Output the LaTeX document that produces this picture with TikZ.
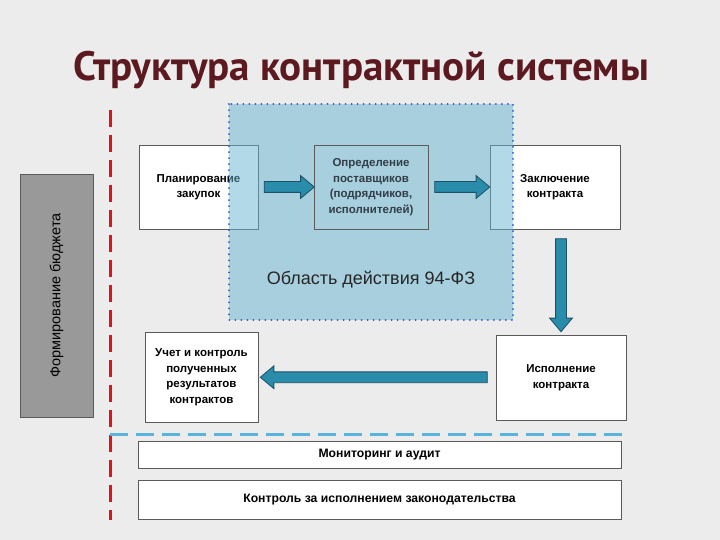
\documentclass[tikz,border=0pt]{standalone}
\usepackage{fontspec}
\setmainfont{Liberation Sans}
\newfontfamily\titlefont{PT Sans}
\usetikzlibrary{shapes.arrows,calc}
\definecolor{bg}{RGB}{236,236,236}
\definecolor{titlec}{RGB}{92,26,32}
\definecolor{regfill}{RGB}{100,180,210}
\definecolor{dotblue}{RGB}{50,80,200}
\definecolor{arrfill}{RGB}{40,140,170}
\definecolor{arrline}{RGB}{30,80,100}
\definecolor{dashred}{RGB}{220,20,30}
\definecolor{dashblue}{RGB}{90,180,220}
\definecolor{budget}{RGB}{153,153,153}
\definecolor{boxline}{RGB}{90,90,90}
\definecolor{optext}{RGB}{50,62,72}
\begin{document}
\begin{tikzpicture}[x=1pt,y=-1pt,
 box/.style={draw=boxline, line width=0.8pt, fill=white, align=center,
   font=\bfseries\fontsize{11.5}{15.5}\selectfont, inner sep=0pt},
 fatarr/.style={single arrow, draw=arrline, fill=arrfill, line width=0.8pt,
   minimum width=22pt, single arrow head extend=6pt, single arrow tip angle=80,
   inner sep=5pt, anchor=center},
 reddash/.style={draw=dashred, line width=3pt, dash pattern=on 17pt off 8pt},
 bluedash/.style={draw=dashblue, line width=3pt, dash pattern=on 18pt off 8pt}]
\useasboundingbox (0,0) rectangle (720,540);
\fill[bg] (0,0) rectangle (720,540);

% title
\node[font=\titlefont\bfseries\fontsize{41}{45}\selectfont, text=titlec] (title) at (361,70) {Структура контрактной системы};

% budget box
\node[draw=boxline, fill=budget, minimum width=73pt, minimum height=243pt, inner sep=0pt] (bud) at (56.5,295.5) {};
\node[rotate=90, font=\fontsize{14.5}{16}\selectfont] (budt) at (bud.center) {Формирование бюджета};

% dashed lines
\coordinate (r1) at (110,110);
\coordinate (r2) at (110,520);
\draw[reddash] (r1) -- (r2);
\coordinate (b1) at (110,434);
\coordinate (b2) at (628,434);
\draw[bluedash] (b1) -- (b2);

% boxes behind region
\node[box, minimum width=119pt, minimum height=84pt] (plan) at (198.5,187) {Планирование\\закупок};
\node[box, minimum width=130pt, minimum height=84pt] (zak) at (555,187) {Заключение\\контракта};

% region
\fill[regfill, fill opacity=0.5] (229,104) rectangle (513,320);
\node[box, minimum width=114pt, minimum height=84pt, fill=none, text=optext] (opr) at (371,187) {Определение\\поставщиков\\(подрядчиков,\\исполнителей)};
\node[font=\fontsize{18}{21}\selectfont, text=black!85] (lbl) at (371,280) {Область действия 94-ФЗ};
\draw[dotblue, line width=2pt, dash pattern=on 0.01pt off 6pt, line cap=round] (229,104) rectangle (513,320);

% other boxes
\node[box, minimum width=130pt, minimum height=85pt] (isp) at (561,377.5) {Исполнение\\контракта};
\node[box, minimum width=113pt, minimum height=90pt] (uch) at (201.5,377) {Учет и контроль\\полученных\\результатов\\контрактов};
\node[box, minimum width=483pt, minimum height=27pt, font=\bfseries\fontsize{12.2}{15}\selectfont] (mon) at (379.5,454.5) {Мониторинг и аудит};
\node[box, minimum width=483pt, minimum height=39pt, font=\bfseries\fontsize{12.2}{15}\selectfont] (kon) at (379.5,499.5) {Контроль за исполнением законодательства};

% arrows
\node[fatarr, minimum height=50pt] (a1) at ($(plan.east)!0.5!(opr.west)$) {};
\node[fatarr, minimum height=55pt] (a2) at ($(opr.east)!0.5!(zak.west)$) {};
\node[fatarr, minimum height=93pt, shape border rotate=270] (a3) at ($(zak.south -| isp.north)!0.5!(isp.north)$) {};
\node[fatarr, minimum height=227pt, shape border rotate=180] (a4) at ($(uch.east)!0.5!(isp.west)$) {};
\end{tikzpicture}
\end{document}
